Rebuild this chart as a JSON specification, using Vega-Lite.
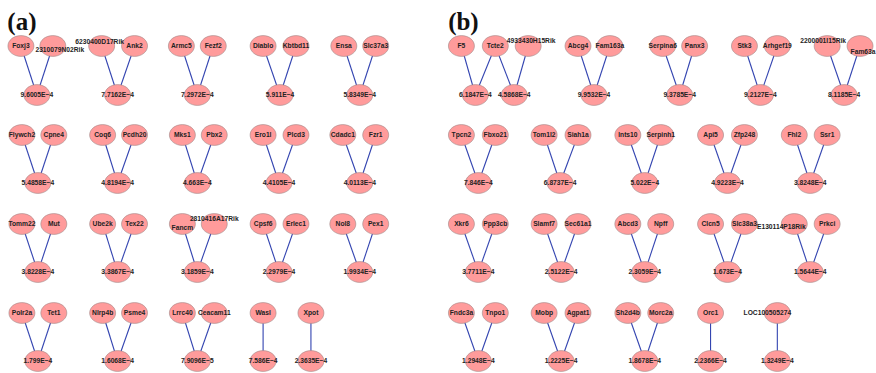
{
  "$schema": "https://vega.github.io/schema/vega-lite/v6.json",
  "width": 876,
  "height": 373,
  "autosize": {"type": "fit", "contains": "padding"},
  "padding": 0,
  "background": "white",
  "config": {"view": {"stroke": null}},
  "datasets": {
    "nodes": [
      {"id":"Foxj3","x":21,"y":46},{"id":"2310079N02Rik","x":53,"y":46,"lx":60,"ly":50},{"id":"9.6005E−4","x":37,"y":95},
      {"id":"6230400D17Rik","x":102,"y":46,"lx":100,"ly":42},{"id":"Ank2","x":135,"y":46},{"id":"7.7162E−4","x":118,"y":95},
      {"id":"Armc5","x":182,"y":46},{"id":"Fezf2","x":214,"y":46},{"id":"7.2972E−4","x":198,"y":95},
      {"id":"Diablo","x":264,"y":46},{"id":"Kbtbd11","x":297,"y":46},{"id":"5.911E−4","x":281,"y":95},
      {"id":"Ensa","x":345,"y":46},{"id":"Slc37a3","x":377,"y":46},{"id":"5.8349E−4","x":361,"y":95},
      {"id":"Flywch2","x":22,"y":135},{"id":"Cpne4","x":54,"y":135},{"id":"5.4858E−4","x":38,"y":183},
      {"id":"Coq6","x":103,"y":135},{"id":"Pcdh20","x":135,"y":135},{"id":"4.8194E−4","x":118,"y":183},
      {"id":"Mks1","x":183,"y":135},{"id":"Pbx2","x":215,"y":135},{"id":"4.663E−4","x":198,"y":183},
      {"id":"Ero1l","x":264,"y":135},{"id":"Plcd3","x":297,"y":135},{"id":"4.4105E−4","x":280,"y":183},
      {"id":"Cdadc1","x":344,"y":135},{"id":"Fzr1","x":377,"y":135},{"id":"4.0113E−4","x":361,"y":183},
      {"id":"Tomm22","x":22,"y":224},{"id":"Mut","x":54,"y":224},{"id":"3.8228E−4","x":38,"y":272},
      {"id":"Ube2k","x":103,"y":224},{"id":"Tex22","x":135,"y":224},{"id":"3.3867E−4","x":118,"y":272},
      {"id":"Fancm","x":183,"y":224,"lx":183,"ly":228},{"id":"2810416A17Rik","x":215,"y":224,"lx":215,"ly":219},{"id":"3.1859E−4","x":198,"y":272},
      {"id":"Cpsf6","x":264,"y":224},{"id":"Erlec1","x":297,"y":224},{"id":"2.2979E−4","x":280,"y":272},
      {"id":"Nol8","x":344,"y":224},{"id":"Pex1","x":377,"y":224},{"id":"1.9934E−4","x":361,"y":272},
      {"id":"Polr2a","x":22,"y":313},{"id":"Tet1","x":54,"y":313},{"id":"1.799E−4","x":38,"y":361},
      {"id":"Nlrp4b","x":103,"y":313},{"id":"Psme4","x":135,"y":313},{"id":"1.6068E−4","x":118,"y":361},
      {"id":"Lrrc40","x":183,"y":313},{"id":"Ceacam11","x":215,"y":313},{"id":"7.9096E−5","x":198,"y":361},
      {"id":"Wasl","x":264,"y":313},{"id":"7.586E−4","x":264,"y":361},
      {"id":"Xpot","x":312,"y":313},{"id":"2.3635E−4","x":312,"y":361},
      {"id":"F5","x":463,"y":46},{"id":"Tcte2","x":497,"y":46},{"id":"4933430H15Rik","x":530,"y":46,"lx":533,"ly":41},{"id":"6.1847E−4","x":477,"y":95},{"id":"4.5868E−4","x":516,"y":95},
      {"id":"Abcg4","x":580,"y":46},{"id":"Fam163a","x":612,"y":46},{"id":"9.9532E−4","x":596,"y":95},
      {"id":"Serpina6","x":665,"y":46},{"id":"Panx3","x":697,"y":46},{"id":"9.3785E−4","x":682,"y":95},
      {"id":"Stk3","x":747,"y":46},{"id":"Arhgef19","x":780,"y":46},{"id":"9.2127E−4","x":763,"y":95},
      {"id":"2200001I15Rik","x":830,"y":46,"lx":826,"ly":41},{"id":"Fam63a","x":863,"y":46,"lx":866,"ly":52},{"id":"8.1185E−4","x":847,"y":95},
      {"id":"Tpcn2","x":463,"y":135},{"id":"Fbxo21","x":497,"y":135},{"id":"7.846E−4","x":480,"y":183},
      {"id":"Tom1l2","x":546,"y":135},{"id":"Siah1a","x":580,"y":135},{"id":"6.8737E−4","x":562,"y":183},
      {"id":"Ints10","x":630,"y":135},{"id":"Serpinh1","x":663,"y":135},{"id":"5.022E−4","x":647,"y":183},
      {"id":"Api5","x":713,"y":135},{"id":"Zfp248","x":747,"y":135},{"id":"4.9223E−4","x":730,"y":183},
      {"id":"Fhl2","x":797,"y":135},{"id":"Ssr1","x":830,"y":135},{"id":"3.8248E−4","x":813,"y":183},
      {"id":"Xkr6","x":463,"y":224},{"id":"Ppp3cb","x":497,"y":224},{"id":"3.7711E−4","x":480,"y":272},
      {"id":"Slamf7","x":546,"y":224},{"id":"Sec61a1","x":580,"y":224},{"id":"2.5122E−4","x":563,"y":272},
      {"id":"Abcd3","x":630,"y":224},{"id":"Npff","x":663,"y":224},{"id":"2.3059E−4","x":647,"y":272},
      {"id":"Clcn5","x":713,"y":224},{"id":"Slc38a3","x":747,"y":224},{"id":"1.673E−4","x":730,"y":272},
      {"id":"E130114P18Rik","x":797,"y":224,"lx":784,"ly":227},{"id":"Prkci","x":830,"y":224},{"id":"1.5644E−4","x":813,"y":272},
      {"id":"Fndc3a","x":463,"y":313},{"id":"Tnpo1","x":497,"y":313},{"id":"1.2948E−4","x":480,"y":361},
      {"id":"Mobp","x":546,"y":313},{"id":"Agpat1","x":580,"y":313},{"id":"1.2225E−4","x":563,"y":361},
      {"id":"Sh2d4b","x":630,"y":313},{"id":"Morc2a","x":663,"y":313},{"id":"1.8678E−4","x":647,"y":361},
      {"id":"Orc1","x":713,"y":313},{"id":"2.2366E−4","x":713,"y":361},
      {"id":"LOC100505274","x":780,"y":313,"lx":770,"ly":313},{"id":"1.3249E−4","x":780,"y":361}
    ],
    "edges": [
      {"s":"Foxj3","t":"9.6005E−4"},{"s":"2310079N02Rik","t":"9.6005E−4"},
      {"s":"6230400D17Rik","t":"7.7162E−4"},{"s":"Ank2","t":"7.7162E−4"},
      {"s":"Armc5","t":"7.2972E−4"},{"s":"Fezf2","t":"7.2972E−4"},
      {"s":"Diablo","t":"5.911E−4"},{"s":"Kbtbd11","t":"5.911E−4"},
      {"s":"Ensa","t":"5.8349E−4"},{"s":"Slc37a3","t":"5.8349E−4"},
      {"s":"Flywch2","t":"5.4858E−4"},{"s":"Cpne4","t":"5.4858E−4"},
      {"s":"Coq6","t":"4.8194E−4"},{"s":"Pcdh20","t":"4.8194E−4"},
      {"s":"Mks1","t":"4.663E−4"},{"s":"Pbx2","t":"4.663E−4"},
      {"s":"Ero1l","t":"4.4105E−4"},{"s":"Plcd3","t":"4.4105E−4"},
      {"s":"Cdadc1","t":"4.0113E−4"},{"s":"Fzr1","t":"4.0113E−4"},
      {"s":"Tomm22","t":"3.8228E−4"},{"s":"Mut","t":"3.8228E−4"},
      {"s":"Ube2k","t":"3.3867E−4"},{"s":"Tex22","t":"3.3867E−4"},
      {"s":"Fancm","t":"3.1859E−4"},{"s":"2810416A17Rik","t":"3.1859E−4"},
      {"s":"Cpsf6","t":"2.2979E−4"},{"s":"Erlec1","t":"2.2979E−4"},
      {"s":"Nol8","t":"1.9934E−4"},{"s":"Pex1","t":"1.9934E−4"},
      {"s":"Polr2a","t":"1.799E−4"},{"s":"Tet1","t":"1.799E−4"},
      {"s":"Nlrp4b","t":"1.6068E−4"},{"s":"Psme4","t":"1.6068E−4"},
      {"s":"Lrrc40","t":"7.9096E−5"},{"s":"Ceacam11","t":"7.9096E−5"},
      {"s":"Wasl","t":"7.586E−4"},
      {"s":"Xpot","t":"2.3635E−4"},
      {"s":"F5","t":"6.1847E−4"},{"s":"Tcte2","t":"6.1847E−4"},{"s":"Tcte2","t":"4.5868E−4"},{"s":"4933430H15Rik","t":"4.5868E−4"},
      {"s":"Abcg4","t":"9.9532E−4"},{"s":"Fam163a","t":"9.9532E−4"},
      {"s":"Serpina6","t":"9.3785E−4"},{"s":"Panx3","t":"9.3785E−4"},
      {"s":"Stk3","t":"9.2127E−4"},{"s":"Arhgef19","t":"9.2127E−4"},
      {"s":"2200001I15Rik","t":"8.1185E−4"},{"s":"Fam63a","t":"8.1185E−4"},
      {"s":"Tpcn2","t":"7.846E−4"},{"s":"Fbxo21","t":"7.846E−4"},
      {"s":"Tom1l2","t":"6.8737E−4"},{"s":"Siah1a","t":"6.8737E−4"},
      {"s":"Ints10","t":"5.022E−4"},{"s":"Serpinh1","t":"5.022E−4"},
      {"s":"Api5","t":"4.9223E−4"},{"s":"Zfp248","t":"4.9223E−4"},
      {"s":"Fhl2","t":"3.8248E−4"},{"s":"Ssr1","t":"3.8248E−4"},
      {"s":"Xkr6","t":"3.7711E−4"},{"s":"Ppp3cb","t":"3.7711E−4"},
      {"s":"Slamf7","t":"2.5122E−4"},{"s":"Sec61a1","t":"2.5122E−4"},
      {"s":"Abcd3","t":"2.3059E−4"},{"s":"Npff","t":"2.3059E−4"},
      {"s":"Clcn5","t":"1.673E−4"},{"s":"Slc38a3","t":"1.673E−4"},
      {"s":"E130114P18Rik","t":"1.5644E−4"},{"s":"Prkci","t":"1.5644E−4"},
      {"s":"Fndc3a","t":"1.2948E−4"},{"s":"Tnpo1","t":"1.2948E−4"},
      {"s":"Mobp","t":"1.2225E−4"},{"s":"Agpat1","t":"1.2225E−4"},
      {"s":"Sh2d4b","t":"1.8678E−4"},{"s":"Morc2a","t":"1.8678E−4"},
      {"s":"Orc1","t":"2.2366E−4"},
      {"s":"LOC100505274","t":"1.3249E−4"}
    ],
    "titles": [
      {"label":"(a)","x":22,"y":22},
      {"label":"(b)","x":465,"y":22}
    ]
  },
  "layer": [
    {
      "data": {"name": "edges"},
      "transform": [
        {"lookup": "s", "from": {"data": {"name": "nodes"}, "key": "id", "fields": ["x", "y"]}, "as": ["sx", "sy"]},
        {"lookup": "t", "from": {"data": {"name": "nodes"}, "key": "id", "fields": ["x", "y"]}, "as": ["tx", "ty"]}
      ],
      "mark": {"type": "rule", "color": "#3344b0", "strokeWidth": 1.1},
      "encoding": {
        "x": {"field": "sx", "type": "quantitative", "scale": {"domain": [0, 876], "nice": false, "zero": false}, "axis": null},
        "y": {"field": "sy", "type": "quantitative", "scale": {"domain": [0, 373], "nice": false, "zero": false, "reverse": true}, "axis": null},
        "x2": {"field": "tx"},
        "y2": {"field": "ty"}
      }
    },
    {
      "data": {"name": "nodes"},
      "mark": {"type": "point", "filled": true, "fill": "#ff9b9b", "stroke": "#a08888", "strokeWidth": 0.6, "opacity": 1, "size": 676, "shape": "M-1,0A1,0.8,0,1,0,1,0A1,0.8,0,1,0,-1,0Z"},
      "encoding": {
        "x": {"field": "x", "type": "quantitative", "axis": null},
        "y": {"field": "y", "type": "quantitative", "axis": null}
      }
    },
    {
      "data": {"name": "nodes"},
      "transform": [{"filter": "datum.lx == null"}],
      "mark": {"type": "text", "font": "Liberation Sans", "fontWeight": "bold", "fontSize": 6.7, "color": "#222222", "align": "center", "baseline": "middle"},
      "encoding": {
        "x": {"field": "x", "type": "quantitative"},
        "y": {"field": "y", "type": "quantitative"},
        "text": {"field": "id"}
      }
    },
    {
      "data": {"name": "nodes"},
      "transform": [{"filter": "datum.lx != null"}],
      "mark": {"type": "text", "font": "Liberation Sans", "fontWeight": "bold", "fontSize": 6.7, "color": "#222222", "align": "center", "baseline": "middle"},
      "encoding": {
        "x": {"field": "lx", "type": "quantitative"},
        "y": {"field": "ly", "type": "quantitative"},
        "text": {"field": "id"}
      }
    },
    {
      "data": {"name": "titles"},
      "mark": {"type": "text", "font": "Liberation Serif", "fontWeight": "bold", "fontSize": 25, "color": "#111111", "align": "center", "baseline": "middle"},
      "encoding": {
        "x": {"field": "x", "type": "quantitative"},
        "y": {"field": "y", "type": "quantitative"},
        "text": {"field": "label"}
      }
    }
  ]
}
